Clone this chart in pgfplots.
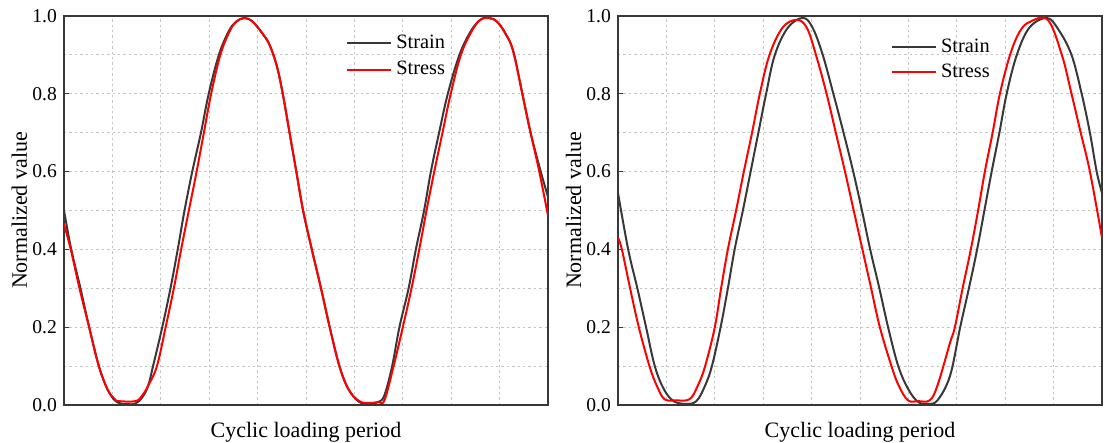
\documentclass[border=0pt]{standalone}
\usepackage{pgfplots}
\pgfplotsset{compat=1.18}
\usepackage{fontspec}
\setmainfont{Liberation Serif}
\definecolor{strainc}{HTML}{383838}
\definecolor{stressc}{HTML}{FF0000}
\definecolor{gridc}{HTML}{C4C4C4}

\pgfplotstableread{
x y
0 0.50
0.15 0.40
0.34 0.30
0.52 0.20
0.72 0.10
0.90 0.04
1.05 0.012
1.17 0.004
1.32 0.002
1.48 0.004
1.62 0.02
1.74 0.05
1.84 0.10
2.03 0.20
2.20 0.30
2.35 0.40
2.49 0.50
2.65 0.60
2.83 0.70
2.99 0.80
3.20 0.90
3.40 0.96
3.55 0.985
3.73 0.995
3.90 0.985
4.10 0.955
4.25 0.925
4.40 0.87
4.52 0.80
4.66 0.70
4.80 0.60
4.94 0.50
5.12 0.40
5.31 0.30
5.49 0.20
5.69 0.10
5.88 0.04
6.10 0.008
6.31 0.003
6.50 0.008
6.62 0.025
6.78 0.10
6.93 0.20
7.12 0.30
7.27 0.40
7.44 0.50
7.58 0.60
7.75 0.70
7.93 0.80
8.17 0.90
8.40 0.96
8.60 0.99
8.78 0.995
8.95 0.985
9.12 0.955
9.28 0.91
9.47 0.80
9.64 0.70
9.85 0.60
10 0.535
}\leftstrain

\pgfplotstableread{
x y
0 0.465
0.14 0.40
0.32 0.30
0.52 0.20
0.72 0.10
0.90 0.04
1.05 0.015
1.13 0.010
1.48 0.010
1.62 0.025
1.74 0.05
1.92 0.10
2.10 0.20
2.27 0.30
2.42 0.40
2.58 0.50
2.74 0.60
2.89 0.70
3.04 0.80
3.23 0.90
3.42 0.96
3.56 0.985
3.73 0.995
3.90 0.985
4.10 0.955
4.25 0.925
4.40 0.87
4.52 0.80
4.66 0.70
4.80 0.60
4.94 0.50
5.12 0.40
5.31 0.30
5.49 0.20
5.69 0.10
5.88 0.04
6.10 0.010
6.31 0.005
6.50 0.008
6.62 0.012
6.81 0.10
7.00 0.20
7.18 0.30
7.34 0.40
7.49 0.50
7.65 0.60
7.82 0.70
7.99 0.80
8.20 0.90
8.42 0.96
8.60 0.99
8.78 0.995
8.95 0.985
9.12 0.955
9.28 0.91
9.47 0.80
9.64 0.70
9.82 0.60
10 0.487
}\leftstress

\pgfplotstableread{
x y
0 0.545
0.21 0.40
0.40 0.30
0.58 0.20
0.76 0.10
0.95 0.04
1.15 0.010
1.40 0.003
1.62 0.010
1.80 0.05
1.94 0.10
2.12 0.20
2.27 0.30
2.41 0.40
2.58 0.50
2.74 0.60
2.90 0.70
3.06 0.80
3.24 0.90
3.51 0.97
3.82 0.995
4.02 0.97
4.23 0.90
4.45 0.80
4.66 0.70
4.86 0.60
5.04 0.50
5.21 0.40
5.40 0.30
5.58 0.20
5.79 0.10
6.00 0.04
6.20 0.008
6.40 0.003
6.60 0.012
6.86 0.075
7.07 0.20
7.25 0.30
7.42 0.40
7.57 0.50
7.72 0.60
7.88 0.70
8.03 0.80
8.24 0.90
8.50 0.97
8.86 0.995
9.10 0.965
9.37 0.90
9.58 0.80
9.75 0.70
9.89 0.60
10 0.545
}\rightstrain

\pgfplotstableread{
x y
0 0.43
0.08 0.40
0.25 0.30
0.43 0.20
0.65 0.10
0.80 0.05
0.96 0.015
1.20 0.012
1.48 0.015
1.65 0.05
1.80 0.10
2.00 0.20
2.13 0.30
2.27 0.40
2.44 0.50
2.60 0.60
2.77 0.70
2.93 0.80
3.13 0.90
3.40 0.97
3.69 0.99
3.90 0.97
4.09 0.90
4.31 0.80
4.50 0.70
4.69 0.60
4.87 0.50
5.05 0.40
5.23 0.30
5.41 0.20
5.65 0.10
5.80 0.05
5.99 0.012
6.20 0.010
6.44 0.012
6.60 0.05
6.86 0.16
6.96 0.20
7.12 0.30
7.29 0.40
7.44 0.50
7.58 0.60
7.74 0.70
7.89 0.80
8.10 0.90
8.30 0.96
8.51 0.985
8.88 0.99
9.17 0.90
9.37 0.80
9.56 0.70
9.75 0.60
10 0.43
}\rightstress

\pgfplotsset{
  panel/.style={
    scale only axis,
    width=242pt, height=194.5pt,
    xmin=0, xmax=10, ymin=0, ymax=1,
    xtick={0,1,...,10},
    xticklabels={},
    ytick={0,0.2,0.4,0.6,0.8,1.0},
    minor ytick={0.1,0.3,0.5,0.7,0.9},
    yticklabel style={/pgf/number format/.cd, fixed, fixed zerofill, precision=1, assume math mode=true},
    ticklabel style={font=\fontsize{9.8}{11}\selectfont},
    tick align=inside,
    ytick pos=left,
    xtick pos=bottom,
    xtick style={draw=none},
    minor tick length=0pt,
    major tick length=2.5pt,
    ytick style={color=strainc, line width=0.6pt},
    grid=both,
    major grid style={gridc, line width=0.5pt, dash pattern=on 1.2pt off 1.5pt},
    minor grid style={gridc, line width=0.5pt, dash pattern=on 1.2pt off 1.5pt},
    axis line style={color=strainc, line width=1pt},
    label style={font=\fontsize{11}{13}\selectfont},
    xlabel={Cyclic loading period},
    ylabel={Normalized value},
    xlabel style={at={(axis description cs:0.5,0)}, anchor=north, yshift=-5pt},
    ylabel style={at={(axis description cs:-0.092,0.5)}, anchor=center},
    legend cell align=left,
    legend image code/.code={\draw[#1] (0pt,0pt) -- (22pt,0pt);},
    legend style={draw=none, fill=none, font=\fontsize{10.2}{12}\selectfont,
      row sep=1pt, anchor=north west},
  }
}

\begin{document}
\begin{tikzpicture}
\useasboundingbox (-32pt,-19pt) rectangle (525pt,202.5pt);
\begin{axis}[panel, legend style={at={(0.57,0.973)}}]
\addplot[strainc, line width=1pt, smooth, tension=0.6] table[x=x,y=y] {\leftstrain};
\addlegendentry{Strain}
\addplot[stressc, line width=1pt, smooth, tension=0.6] table[x=x,y=y] {\leftstress};
\addlegendentry{Stress}
\end{axis}
\begin{axis}[panel, at={(277pt,0pt)}, legend style={at={(0.551,0.962)}, row sep=0pt}]
\addplot[strainc, line width=1pt, smooth, tension=0.6] table[x=x,y=y] {\rightstrain};
\addlegendentry{Strain}
\addplot[stressc, line width=1pt, smooth, tension=0.6] table[x=x,y=y] {\rightstress};
\addlegendentry{Stress}
\end{axis}
\end{tikzpicture}
\end{document}
